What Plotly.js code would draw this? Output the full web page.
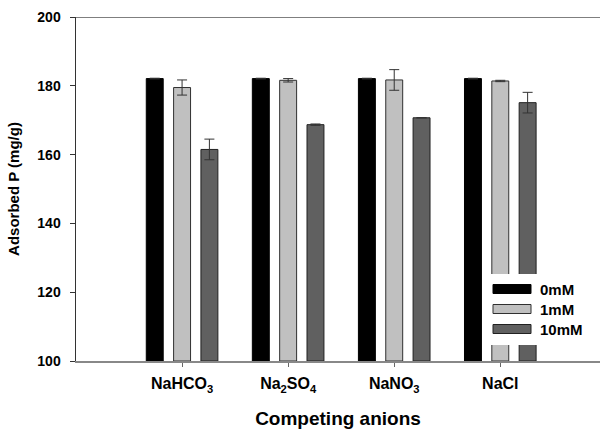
<!DOCTYPE html>
<html>
<head>
<meta charset="utf-8">
<script src="https://cdn.plot.ly/plotly-3.0.1.min.js"></script>
<style>html,body{margin:0;padding:0;background:#fff;}#chart{width:601px;height:429px;}</style>
</head>
<body>
<div id="chart"></div>
<script>
const categories = ["NaHCO<sub>3</sub>", "Na<sub>2</sub>SO<sub>4</sub>", "NaNO<sub>3</sub>", "NaCl"];
const seriesNames = ["0mM", "1mM", "10mM"];
const values0mM = [182.1, 182.1, 182.1, 182.1];
const values1mM = [179.5, 181.6, 181.7, 181.4];
const values10mM = [161.5, 168.7, 170.7, 175.1];
const err0mM = [0.1, 0.1, 0.1, 0.1];
const err1mM = [2.2, 0.5, 3.0, 0.2];
const err10mM = [3.0, 0.2, 0, 3.0];
const yTicks = [100, 120, 140, 160, 180, 200];

const fills = ["#000000", "#c0c0c0", "#606060"];
const lines = ["#000000", "#303030", "#202020"];
const vals = [values0mM, values1mM, values10mM];
const errs = [err0mM, err1mM, err10mM];

const xIdx = categories.map((c, i) => i);
const traces = vals.map((v, k) => ({
  type: "bar",
  name: seriesNames[k],
  x: xIdx,
  y: v.map(d => d - 100),
  base: 100,
  marker: {color: fills[k], line: {color: lines[k], width: 1}},
  error_y: {type: "data", array: errs[k], visible: true, color: "#333", thickness: 1, width: 5},
  showlegend: false
}));

const font = "'Liberation Sans', Arial, sans-serif";
function px2x(px) { return (px - 76) / 524; }
function px2y(py) { return (361 - py) / 344; }

const shapes = [
  {type: "line", xref: "paper", yref: "y", x0: 0, x1: 1, y0: 200, y1: 200, line: {color: "#000", width: 1}},
  {type: "rect", xref: "paper", yref: "paper", x0: px2x(484), x1: 1, y0: px2y(345), y1: px2y(274), fillcolor: "#fff", line: {width: 0}}
];
const annotations = [];
const rowY = [289, 309, 329];
seriesNames.forEach((n, k) => {
  shapes.push({type: "rect", xref: "paper", yref: "paper", x0: px2x(493), x1: px2x(531),
    y0: px2y(rowY[k] + 4.5), y1: px2y(rowY[k] - 4.5), fillcolor: fills[k], line: {color: lines[k], width: 1}});
  annotations.push({xref: "paper", yref: "paper", x: px2x(538), y: px2y(rowY[k]), xanchor: "left", yanchor: "middle",
    text: n, showarrow: false, font: {family: font, size: 15, weight: 700, color: "#000"}});
});

const layout = {
  width: 601, height: 429,
  margin: {l: 76, r: 1, t: 17, b: 68},
  paper_bgcolor: "#fff", plot_bgcolor: "#fff",
  barmode: "group", bargap: 0.227, bargroupgap: 0.38,
  font: {family: font, color: "#000", weight: 700},
  xaxis: {
    range: [-1, 3.94], tickvals: xIdx, ticktext: categories,
    ticks: "outside", ticklen: 4, tickcolor: "#666", showgrid: false, zeroline: false,
    showline: true, linecolor: "#888", linewidth: 2,
    tickfont: {family: font, size: 16, weight: 700, color: "#000"}, ticklabelstandoff: 3,
    title: {text: "Competing anions", font: {family: font, size: 19, weight: 700, color: "#000"}, standoff: 18}
  },
  yaxis: {
    range: [100, 200], tickvals: yTicks, ticktext: yTicks.map(String),
    ticks: "outside", ticklen: 5, tickcolor: "#333", showgrid: false, zeroline: false,
    showline: true, linecolor: "#333", linewidth: 1.5,
    tickfont: {family: font, size: 14, weight: 700, color: "#000"}, ticklabelstandoff: 6,
    title: {text: "Adsorbed P (mg/g)", font: {family: font, size: 15, weight: 700, color: "#000"}, standoff: 14}
  },
  shapes: shapes,
  annotations: annotations,
  showlegend: false
};

Plotly.newPlot("chart", traces, layout, {staticPlot: true, displayModeBar: false});
</script>
</body>
</html>
